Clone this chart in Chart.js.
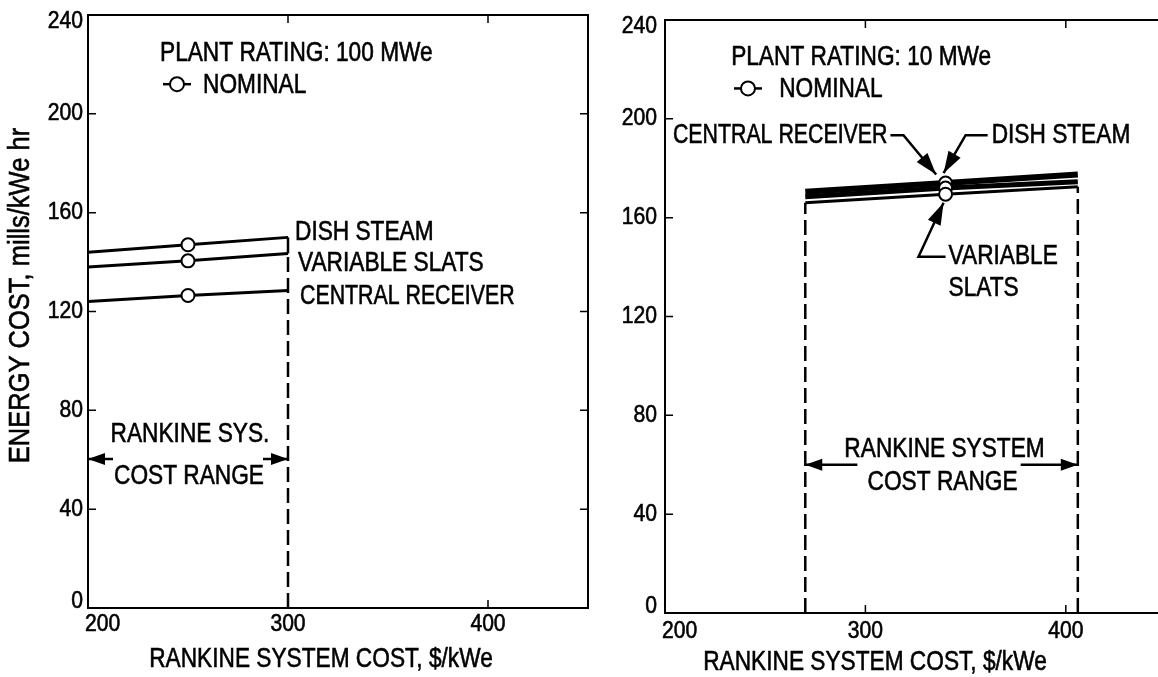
<!DOCTYPE html>
<html lang="en">
<head>
<meta charset="UTF-8">
<title>Energy cost vs Rankine system cost</title>
<script src="https://cdn.jsdelivr.net/npm/chart.js"></script>
<style>
    html, body {
        margin: 0;
        background: #fff;
        overflow: hidden;
    }
    body {
        position: relative;
        width: 1158px;
        height: 677px;
    }
    canvas {
        position: absolute;
        top: 0;
    }
    #left { left: 0; }
    #right { left: 590px; }
</style>
</head>
<body>
<canvas id="left" width="590" height="677"></canvas>
<canvas id="right" width="578" height="677"></canvas>

<script>
// tick labels
const xTicks = [200, 300, 400];
const yTicks = [0, 40, 80, 120, 160, 200, 240];

// plant rating 100 MWe  (x = Rankine system cost $/kWe, y = mills/kWe hr)
const cost100 = [200, 250, 300];
const dishSteam100 = [144, 147, 150];
const varSlats100 = [138, 140.5, 143.5];
const centralRec100 = [124, 126.5, 128.5];

// plant rating 10 MWe
const cost10 = [270, 340, 406];
const dishSteam10 = [170.5, 174, 177.5];
const centralRec10 = [168.5, 172, 174.5];
const varSlats10 = [166, 169.5, 172.5];

const nominalIdx = 1; // middle point of each series is the nominal case

const FONT = '"Liberation Sans", Arial, sans-serif';
const SX = 0.84; // squeeze text horizontally, the original uses a condensed face

function pts(xs, ys) {
    return xs.map((x, i) => ({ x: x, y: ys[i] }));
}

function lineSet(xs, ys, w, dash) {
    return {
        data: pts(xs, ys),
        showLine: true,
        borderColor: '#000',
        borderWidth: w,
        borderDash: dash || [],
        pointRadius: 0,
        tension: 0,
        fill: false
    };
}

function nominalSet(xs, list) {
    return {
        data: list.map(ys => ({ x: xs[nominalIdx], y: ys[nominalIdx] })),
        showLine: false,
        pointRadius: 6.5,
        pointBackgroundColor: '#fff',
        pointBorderColor: '#000',
        pointBorderWidth: 2,
        order: -1
    };
}

function text(ctx, s, x, y, size, align, sx) {
    ctx.save();
    ctx.font = size + 'px ' + FONT;
    ctx.textBaseline = 'middle';
    ctx.textAlign = align || 'left';
    ctx.translate(x, y);
    ctx.scale(sx || SX, 1);
    ctx.lineWidth = 0.6;
    ctx.strokeStyle = '#000';
    ctx.fillText(s, 0, 0);
    ctx.strokeText(s, 0, 0); // a touch heavier, like the printed original
    ctx.restore();
}

function arrow(ctx, p, L, W) {
    ctx.beginPath();
    ctx.moveTo(p[0][0], p[0][1]);
    for (let i = 1; i < p.length; i++) ctx.lineTo(p[i][0], p[i][1]);
    ctx.stroke();
    const [x1, y1] = p[p.length - 2];
    const [x2, y2] = p[p.length - 1];
    const a = Math.atan2(y2 - y1, x2 - x1);
    const bx = x2 - L * Math.cos(a), by = y2 - L * Math.sin(a);
    ctx.beginPath();
    ctx.moveTo(x2, y2);
    ctx.lineTo(bx + W * Math.sin(a), by - W * Math.cos(a));
    ctx.lineTo(bx - W * Math.sin(a), by + W * Math.cos(a));
    ctx.closePath();
    ctx.fill();
}

// frame, inward ticks, labels, notes and arrows
const notesPlugin = {
    id: 'notes',
    afterDatasetsDraw(chart, args, o) {
        const ctx = chart.ctx, a = chart.chartArea;
        const X = v => chart.scales.x.getPixelForValue(v);
        const Y = v => chart.scales.y.getPixelForValue(v);
        ctx.save();
        ctx.strokeStyle = '#000';
        ctx.fillStyle = '#000';

        ctx.lineWidth = 2;
        ctx.strokeRect(a.left, a.top, a.right - a.left, a.bottom - a.top);

        ctx.lineWidth = 1.5;
        ctx.beginPath();
        chart.scales.x.ticks.forEach(t => {
            const px = X(t.value);
            ctx.moveTo(px, a.bottom); ctx.lineTo(px, a.bottom - 8);
            ctx.moveTo(px, a.top); ctx.lineTo(px, a.top + 8);
        });
        chart.scales.y.ticks.forEach(t => {
            const py = Y(t.value);
            ctx.moveTo(a.left, py); ctx.lineTo(a.left + 8, py);
            ctx.moveTo(a.right, py); ctx.lineTo(a.right - 8, py);
        });
        ctx.stroke();

        // tick labels
        chart.scales.x.ticks.forEach((t, i) => {
            const px = X(t.value);
            if (i === 0) text(ctx, String(t.value), px - 3, a.bottom + o.xLabelDy, 24, 'left', 0.88);
            else text(ctx, String(t.value), px, a.bottom + o.xLabelDy, 24, 'center', 0.88);
        });
        chart.scales.y.ticks.forEach(t => {
            let py = Y(t.value);
            py = Math.min(Math.max(py, a.top + 6), a.bottom - 7);
            text(ctx, String(t.value), a.left - o.yLabelGap, py, 24, 'right', 0.88);
        });

        // axis titles
        text(ctx, 'RANKINE SYSTEM COST, $/kWe', o.xTitle[0], o.xTitle[1], 28, 'center', 0.81);
        if (o.yTitle) {
            ctx.save();
            ctx.translate(o.yTitle[0], (a.top + a.bottom) / 2 + o.yTitle[1]);
            ctx.rotate(-Math.PI / 2);
            text(ctx, 'ENERGY COST, mills/kWe hr', 0, 0, 30, 'center', 0.85);
            ctx.restore();
        }

        // nominal key
        const kx = X(o.key[0]), ky = Y(o.key[1]);
        ctx.lineWidth = 2.5;
        ctx.beginPath();
        ctx.moveTo(kx - 14, ky); ctx.lineTo(kx + 14, ky);
        ctx.stroke();
        ctx.beginPath();
        ctx.arc(kx, ky, 7, 0, Math.PI * 2);
        ctx.fillStyle = '#fff';
        ctx.fill();
        ctx.lineWidth = 2;
        ctx.stroke();
        ctx.fillStyle = '#000';

        o.texts.forEach(t => text(ctx, t.s, X(t.x), Y(t.y), 27, t.align, t.sx));

        ctx.lineWidth = 2.5;
        o.arrows.forEach(ar => arrow(ctx, ar.p.map(q => [X(q[0]), Y(q[1])]), ar.L || 17, ar.W || 6));
        ctx.restore();
    }
};

function makeChart(id, datasets, opt) {
    return new Chart(document.getElementById(id), {
        type: 'scatter',
        data: { datasets: datasets },
        options: {
            responsive: false,
            animation: false,
            devicePixelRatio: 1,
            layout: { padding: opt.padding, autoPadding: false },
            plugins: {
                legend: { display: false },
                tooltip: { enabled: false },
                notes: opt.notes
            },
            scales: {
                x: {
                    type: 'linear', min: 200, max: 450,
                    grid: { display: false }, border: { display: false },
                    ticks: { display: false },
                    afterBuildTicks: s => { s.ticks = xTicks.map(v => ({ value: v })); },
                    afterFit: s => { s.height = opt.xAxisH; }
                },
                y: {
                    type: 'linear', min: 0, max: 240,
                    grid: { display: false }, border: { display: false },
                    ticks: { display: false },
                    afterBuildTicks: s => { s.ticks = yTicks.map(v => ({ value: v })); },
                    afterFit: s => { s.width = opt.yAxisW; }
                }
            }
        },
        plugins: [notesPlugin]
    });
}

// left: 100 MWe
const end100 = cost100.length - 1;
makeChart('left', [
    lineSet(cost100, dishSteam100, 3),
    lineSet(cost100, varSlats100, 3),
    lineSet(cost100, centralRec100, 3),
    lineSet([cost100[end100], cost100[end100]], [varSlats100[end100], dishSteam100[end100]], 2.5),
    lineSet([cost100[end100], cost100[end100]], [0, varSlats100[end100]], 2.5, [15, 6]),
    nominalSet(cost100, [dishSteam100, varSlats100, centralRec100])
], {
    padding: { top: 15, right: 2, left: 0, bottom: 0 },
    xAxisH: 69,
    yAxisW: 88,
    notes: {
        xLabelDy: 16,
        yLabelGap: 5,
        xTitle: [321, 659],
        yTitle: [21, -16],
        key: [244.5, 212],
        texts: [
            { s: 'PLANT RATING: 100 MWe', x: 236, y: 224.5 },
            { s: 'NOMINAL', x: 257.5, y: 211.5 },
            { s: 'DISH STEAM', x: 303.5, y: 152 },
            { s: 'VARIABLE SLATS', x: 305, y: 139.5 },
            { s: 'CENTRAL RECEIVER', x: 306, y: 126, sx: 0.79 },
            { s: 'RANKINE SYS.', x: 251, y: 70, align: 'center' },
            { s: 'COST RANGE', x: 250.5, y: 53, align: 'center' }
        ],
        arrows: [
            { p: [[212.5, 60.3], [cost100[0], 60.3]] },
            { p: [[287.5, 60.3], [cost100[end100], 60.3]] }
        ]
    }
});

// right: 10 MWe
const end10 = cost10.length - 1;
makeChart('right', [
    lineSet(cost10, dishSteam10, 6),
    lineSet(cost10, centralRec10, 5),
    lineSet(cost10, varSlats10, 3),
    lineSet([cost10[0], cost10[0]], [0, varSlats10[0]], 2.5, [15, 6]),
    lineSet([cost10[end10], cost10[end10]], [0, varSlats10[end10]], 2.5, [15, 6]),
    nominalSet(cost10, [dishSteam10, centralRec10, varSlats10])
], {
    padding: { top: 20, right: 2, left: 0, bottom: 0 },
    xAxisH: 64,
    yAxisW: 75,
    notes: {
        xLabelDy: 18,
        yLabelGap: 8,
        xTitle: [285, 662],
        yTitle: null,
        key: [241.4, 212.3],
        texts: [
            { s: 'PLANT RATING: 10 MWe', x: 233, y: 225 },
            { s: 'NOMINAL', x: 257, y: 212 },
            { s: 'CENTRAL RECEIVER', x: 311, y: 193.4, align: 'right', sx: 0.79 },
            { s: 'DISH STEAM', x: 363, y: 193.4 },
            { s: 'VARIABLE', x: 341.5, y: 144.2 },
            { s: 'SLATS', x: 341.5, y: 131.4 },
            { s: 'RANKINE SYSTEM', x: 339.5, y: 66, align: 'center' },
            { s: 'COST RANGE', x: 338.5, y: 52.6, align: 'center' }
        ],
        arrows: [
            { p: [[296, 60], [cost10[0], 60]] },
            { p: [[377.5, 60], [cost10[end10], 60]] },
            { p: [[312.5, 193.4], [319, 193.4], [335.3, 177.5]], L: 22, W: 7 },
            { p: [[361, 193.4], [350, 193.4], [339, 178]], L: 22, W: 7 },
            { p: [[340, 144.2], [326.5, 144.2], [339, 166]], L: 22, W: 7 }
        ]
    }
});
</script>
</body>
</html>
